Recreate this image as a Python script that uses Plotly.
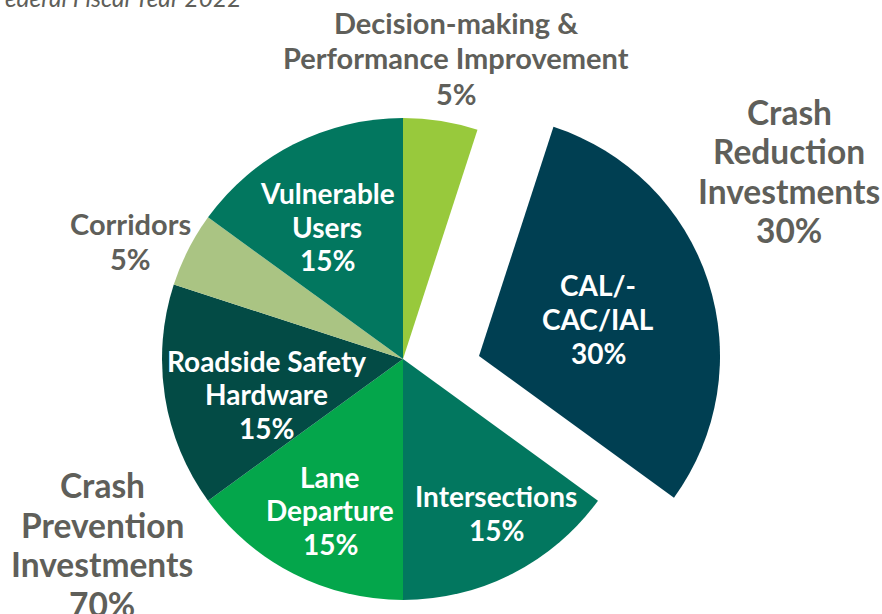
import plotly.graph_objects as go

# ---- data ----
categories = ["Decision-making &<br>Performance Improvement", "CAL/-<br>CAC/IAL", "Intersections",
              "Lane<br>Departure", "Roadside Safety<br>Hardware", "Corridors", "Vulnerable<br>Users"]
shares = [5, 30, 15, 15, 15, 5, 15]
slice_colors = ["#98c93c", "#003f52", "#02775f", "#04a64b", "#034b45", "#aac483", "#02775f"]
pulled_category = "CAL/-<br>CAC/IAL"
groups = ["Crash<br>Reduction<br>Investments", "Crash<br>Prevention<br>Investments"]
group_shares = [30, 70]
title_text = "Federal Fiscal Year 2022"

W, H = 882, 614
cx, cy, R = 403, 359, 241
shift_x, shift_y = 76, -3

def px(x):
    return x / W

def py(y):
    return 1 - y / H

main_colors = ["rgba(0,0,0,0)" if c == pulled_category else col for c, col in zip(categories, slice_colors)]
pull_colors = [col if c == pulled_category else "rgba(0,0,0,0)" for c, col in zip(categories, slice_colors)]

fig = go.Figure()
fig.add_trace(go.Pie(
    labels=categories, values=shares, sort=False, direction="clockwise", rotation=0,
    marker=dict(colors=main_colors, line=dict(width=0)), textinfo="none", hoverinfo="label+percent",
    domain=dict(x=[px(cx - R), px(cx + R)], y=[py(cy + R), py(cy - R)]), showlegend=False,
))
fig.add_trace(go.Pie(
    labels=categories, values=shares, sort=False, direction="clockwise", rotation=0,
    marker=dict(colors=pull_colors, line=dict(width=0)), textinfo="none", hoverinfo="skip",
    domain=dict(x=[px(cx + shift_x - R), px(cx + shift_x + R)],
                y=[py(cy + shift_y + R), py(cy + shift_y - R)]), showlegend=False,
))

annotations = []

def add_block(text, x, y, size, color, spacing):
    lines = text.split("<br>")
    n = len(lines)
    for i, line in enumerate(lines):
        yy = y + (i - (n - 1) / 2) * spacing
        annotations.append(dict(
            x=px(x), y=py(yy), xref="paper", yref="paper", xanchor="center", yanchor="middle",
            text=line, showarrow=False, align="center",
            font=dict(family="Lato", weight="bold", size=size, color=color),
        ))

GRAY = "#5f5f5a"
label_pos = [(456, 57.5, GRAY, 29, 35.5), (598, 319, "#ffffff", 28, 34), (496, 513, "#ffffff", 28, 34),
             (330, 510, "#ffffff", 28, 33.5), (266, 394.5, "#ffffff", 28, 33.5), (130, 241, GRAY, 29, 34),
             (327, 226.5, "#ffffff", 28, 33.5)]
for cat, val, (x, y, col, size, sp) in zip(categories, shares, label_pos):
    add_block(f"{cat}<br>{val}%", x, y, size, col, sp)

group_pos = [(789, 171), (102, 544.5)]
for g, v, (x, y) in zip(groups, group_shares, group_pos):
    add_block(f"{g}<br>{v}%", x, y, 33.5, GRAY, 39.5)

annotations.append(dict(
    x=px(243), y=py(14), xref="paper", yref="paper", xanchor="right", yanchor="bottom",
    text=f"<i>{title_text}</i>", showarrow=False,
    font=dict(family="Lato", size=24.5, color=GRAY),
))

fig.update_layout(
    width=W, height=H, margin=dict(l=0, r=0, t=0, b=0),
    paper_bgcolor="white", plot_bgcolor="white", annotations=annotations,
)
fig.write_html("out.html", config={"displayModeBar": False},
               post_script="document.body.style.margin='0px';")
